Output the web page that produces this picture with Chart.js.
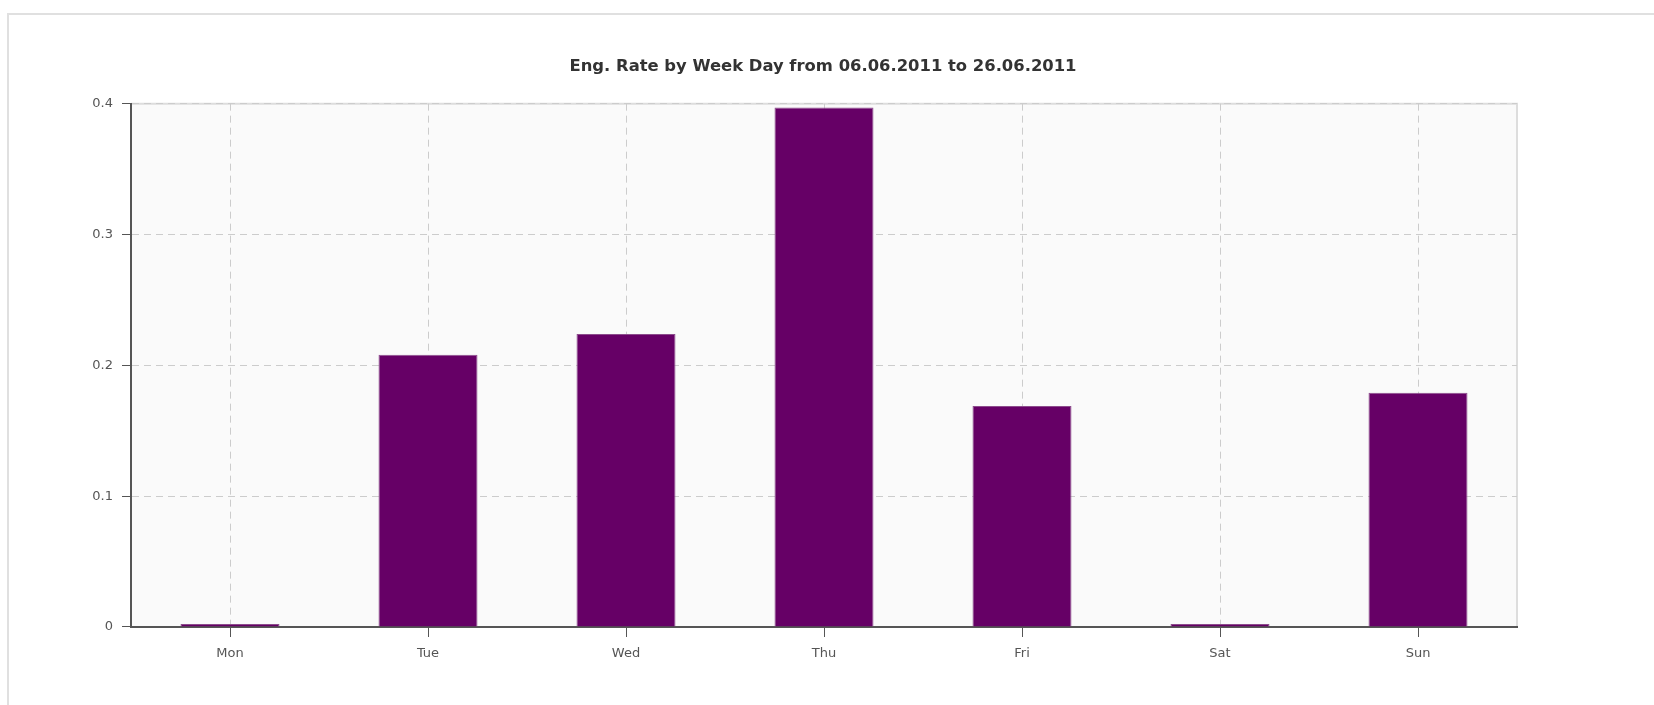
<!DOCTYPE html>
<html>
<head>
<meta charset="utf-8">
<script src="https://cdn.jsdelivr.net/npm/chart.js@4"></script>
<style>
  body { margin: 0; background: #fff; }
  #frame {
    position: absolute; left: 7px; top: 13px; right: 0; bottom: 0;
    border-top: 2px solid #e0e0e0; border-left: 2px solid #e0e0e0;
  }
  #wrap { position: absolute; left: 0; top: 0; width: 1646px; height: 705px; }
</style>
</head>
<body>
<div id="frame"></div>
<div id="wrap"><canvas id="myChart"></canvas></div>
<script>
var days = ["Mon", "Tue", "Wed", "Thu", "Fri", "Sat", "Sun"];
var engRate = [0, 0.208, 0.224, 0.397, 0.169, 0, 0.179];
var yTicks = [0, 0.1, 0.2, 0.3, 0.4];
var chartTitle = "Eng. Rate by Week Day from 06.06.2011 to 26.06.2011";

// plot background + light top/right frame
var plotBox = {
  id: 'plotBox',
  beforeDraw: function (chart) {
    var a = chart.chartArea, c = chart.ctx;
    c.save();
    c.fillStyle = "#fafafa";
    c.fillRect(a.left, a.top, a.right - a.left, a.bottom - a.top);
    c.strokeStyle = "#dddddd";
    c.lineWidth = 2;
    c.beginPath();
    c.moveTo(a.left, a.top);
    c.lineTo(a.right, a.top);
    c.lineTo(a.right, a.bottom);
    c.stroke();
    c.restore();
  }
};

var ctx = document.getElementById("myChart");
var myChart = new Chart(ctx, {
  type: 'bar',
  data: {
    labels: days,
    datasets: [
      {
        data: engRate,
        backgroundColor: "#660066",
        borderColor: "#8c4c8c",
        borderWidth: 1,
        minBarLength: 3,
        barPercentage: 0.5,
        categoryPercentage: 1
      }
    ]
  },
  options: {
    maintainAspectRatio: false,
    responsive: true,
    animation: false,
    layout: { padding: 0 },
    plugins: {
      legend: { display: false },
      tooltip: { enabled: false },
      title: {
        display: true,
        text: chartTitle,
        color: "#333",
        font: { family: "DejaVu Sans", size: 16.4, weight: 'bold', lineHeight: 1.2 },
        padding: { top: 57, bottom: 27 }
      }
    },
    scales: {
      x: {
        afterFit: function (s) { s.height = 78; },
        grid: {
          offset: false,
          color: "#cccccc",
          tickColor: "#555",
          tickLength: 10,
          tickBorderDash: []
        },
        border: { color: "#555", width: 2, dash: [7, 5] },
        ticks: { color: "#555", padding: 9, font: { family: "DejaVu Sans", size: 13 } }
      },
      y: {
        min: 0,
        max: 0.4,
        afterFit: function (s) { s.width = 131; },
        afterBuildTicks: function (s) { s.ticks = yTicks.map(function (v) { return { value: v }; }); },
        grid: {
          color: "#cccccc",
          tickColor: "#555",
          tickLength: 9,
          tickBorderDash: []
        },
        border: { color: "#555", width: 2, dash: [7, 5] },
        ticks: {
          color: "#555",
          padding: 9,
          font: { family: "DejaVu Sans", size: 13 },
          callback: function (v) { return String(v); }
        }
      },
      // empty right-hand space so the title stays centred on the page
      spacer: {
        position: 'right',
        afterFit: function (s) { s.width = 129; },
        grid: { display: false },
        border: { display: false },
        ticks: { display: false }
      }
    }
  },
  plugins: [plotBox]
});
</script>
</body>
</html>
